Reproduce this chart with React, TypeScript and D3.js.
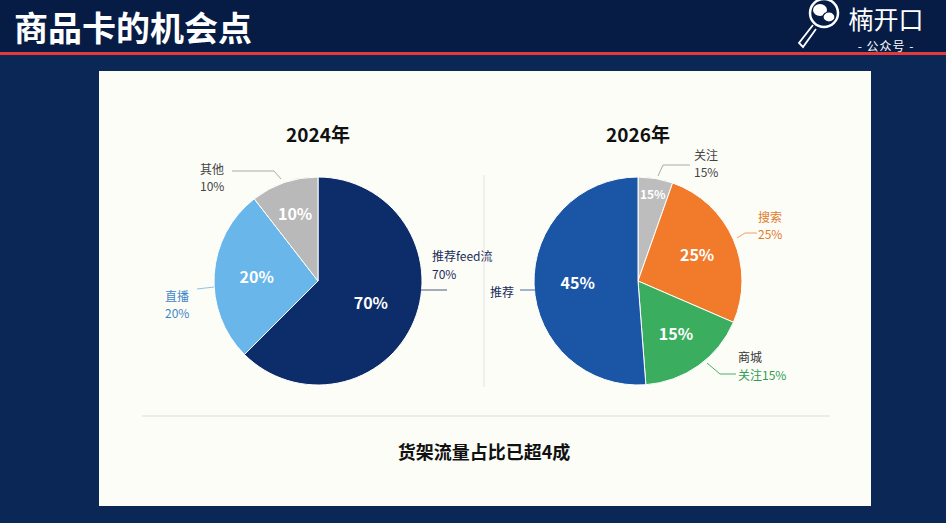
import React, { useEffect, useRef } from "react";
import * as d3 from "d3";

// 2024 pie
const cats2024 = ["推荐feed流", "直播", "其他"];
const labels2024 = ["70%", "20%", "10%"];
// slice sizes as drawn in the picture (the drawing is not to the printed numbers)
const shares2024 = [62.5, 27, 10.5];
const colors2024 = ["#0c2c6a", "#68b6ea", "#b9b9b9"];

// 2026 pie (clockwise from 12 o'clock)
const cats2026 = ["关注", "搜索", "商城", "推荐"];
const labels2026 = ["15%", "25%", "15%", "45%"];
const shares2026 = [5.4, 26.1, 17.3, 51.2];
const colors2026 = ["#bdbdbd", "#f27b2b", "#3aae5e", "#1a55a6"];

const W = 946;
const H = 523;
const FONT = "'Noto Sans CJK SC', 'Noto Sans', sans-serif";

export default function App() {
  const ref = useRef<SVGSVGElement | null>(null);

  useEffect(() => {
    const svg = d3.select(ref.current);
    svg.selectAll("*").remove();
    svg.attr("width", W).attr("height", H);

    // page background + header
    svg.append("rect").attr("width", W).attr("height", H).attr("fill", "#0a2756");
    svg.append("rect").attr("width", W).attr("height", 53).attr("fill", "#061c45");
    svg.append("rect").attr("y", 52).attr("width", W).attr("height", 3).attr("fill", "#e63a3a");
    svg
      .append("text")
      .attr("x", 14)
      .attr("y", 41)
      .attr("fill", "#fff")
      .style("font-family", FONT)
      .style("font-weight", "bold")
      .style("font-size", "34px")
      .text("商品卡的机会点");

    // logo
    const logo = svg.append("g").attr("fill", "none").attr("stroke", "#fff");
    logo.append("circle").attr("cx", 824).attr("cy", 13).attr("r", 14).attr("stroke-width", 2.5);
    logo
      .append("path")
      .attr("d", "M813,25 L799,43 L803,47 L816,29")
      .attr("stroke-width", 1.8);
    logo.append("ellipse").attr("cx", 820).attr("cy", 10).attr("rx", 7).attr("ry", 6).attr("fill", "#fff").attr("stroke", "none");
    logo.append("ellipse").attr("cx", 829).attr("cy", 17).attr("rx", 6).attr("ry", 5).attr("fill", "#fff").attr("stroke", "#061c45").attr("stroke-width", 1.2);
    svg
      .append("text")
      .attr("x", 886)
      .attr("y", 29)
      .attr("text-anchor", "middle")
      .attr("fill", "#fff")
      .style("font-family", FONT)
      .style("font-size", "25px")
      .text("楠开口");
    svg
      .append("text")
      .attr("x", 886)
      .attr("y", 51)
      .attr("text-anchor", "middle")
      .attr("fill", "#fff")
      .style("font-family", FONT)
      .style("font-size", "12px")
      .style("letter-spacing", "1px")
      .text("- 公众号 -");

    // white panel
    svg.append("rect").attr("x", 99).attr("y", 71).attr("width", 772).attr("height", 435).attr("fill", "#fdfdf8");

    const pie = d3
      .pie<number>()
      .value((d) => d)
      .sort(null);

    const drawPie = (
      cx: number,
      cy: number,
      r: number,
      title: string,
      shares: number[],
      labels: string[],
      colors: string[],
      labelR: number[],
      smallIdx: number,
    ) => {
      const g = svg.append("g").attr("transform", `translate(${cx},${cy})`);
      const arc = d3.arc<d3.PieArcDatum<number>>().innerRadius(0).outerRadius(r);
      const arcs = pie(shares);
      g.selectAll("path")
        .data(arcs)
        .enter()
        .append("path")
        .attr("d", arc)
        .attr("fill", (_, i) => colors[i])
        .attr("stroke", "#fff")
        .attr("stroke-width", 1);
      g.selectAll("text.in")
        .data(arcs)
        .enter()
        .append("text")
        .attr("class", "in")
        .attr("transform", (d, i) => {
          const rr = r * labelR[i];
          const c = d3.arc<d3.PieArcDatum<number>>().innerRadius(rr).outerRadius(rr).centroid(d);
          return `translate(${c})`;
        })
        .attr("text-anchor", "middle")
        .attr("dy", "0.36em")
        .attr("fill", "#fff")
        .style("font-family", FONT)
        .style("font-weight", "bold")
        .style("font-size", (_, i) => (i === smallIdx ? "12px" : "16px"))
        .text((_, i) => labels[i]);
      svg
        .append("text")
        .attr("x", cx)
        .attr("y", 142)
        .attr("text-anchor", "middle")
        .attr("fill", "#111")
        .style("font-family", FONT)
        .style("font-weight", "bold")
        .style("font-size", "19px")
        .text(title);
      return g;
    };

    drawPie(318, 281, 104, "2024年", shares2024, labels2024, colors2024, [0.55, 0.59, 0.68], -1);
    drawPie(638, 281, 104, "2026年", shares2026, labels2026, colors2026, [0.84, 0.62, 0.63, 0.58], 0);

    // callouts
    const callout = (
      pts: [number, number][],
      lines: { t: string; c: string; x: number; y: number }[],
      stroke: string,
    ) => {
      svg
        .append("path")
        .attr("d", d3.line()(pts))
        .attr("fill", "none")
        .attr("stroke", stroke)
        .attr("stroke-width", 1);
      lines.forEach((l) =>
        svg
          .append("text")
          .attr("x", l.x)
          .attr("y", l.y)
          .attr("fill", l.c)
          .style("font-family", FONT)
          .style("font-size", "12px")
          .text(l.t),
      );
    };

    callout(
      [[232, 171], [274, 171], [281, 179]],
      [
        { t: cats2024[2], c: "#444", x: 200, y: 174 },
        { t: labels2024[2], c: "#444", x: 200, y: 191 },
      ],
      "#aaa",
    );
    callout(
      [[197, 289], [214, 287]],
      [
        { t: cats2024[1], c: "#3d86c6", x: 165, y: 301 },
        { t: labels2024[1], c: "#3d86c6", x: 165, y: 318 },
      ],
      "#8cc4ea",
    );
    callout(
      [[421, 290], [447, 290]],
      [
        { t: cats2024[0], c: "#1a2d5a", x: 432, y: 261 },
        { t: labels2024[0], c: "#1a2d5a", x: 432, y: 279 },
      ],
      "#4a5a7a",
    );

    callout(
      [[658, 176], [663, 165], [690, 165]],
      [
        { t: cats2026[0], c: "#444", x: 694, y: 160 },
        { t: labels2026[0], c: "#444", x: 694, y: 177 },
      ],
      "#aaa",
    );
    callout(
      [[737, 238], [745, 233], [757, 233]],
      [
        { t: cats2026[1], c: "#e07a2c", x: 758, y: 222 },
        { t: labels2026[1], c: "#e07a2c", x: 758, y: 239 },
      ],
      "#f0a060",
    );
    callout(
      [[707, 363], [720, 374], [736, 374]],
      [
        { t: cats2026[2], c: "#333", x: 738, y: 362 },
        { t: "关注" + labels2026[2], c: "#2f9e52", x: 738, y: 380 },
      ],
      "#4caf6a",
    );
    callout(
      [[520, 290], [535, 290]],
      [{ t: cats2026[3], c: "#1a2d5a", x: 490, y: 297 }],
      "#4a6aa0",
    );

    // divider and footer
    svg.append("line").attr("x1", 484).attr("x2", 484).attr("y1", 175).attr("y2", 387).attr("stroke", "#e2e2e2");
    svg.append("line").attr("x1", 142).attr("x2", 830).attr("y1", 416).attr("y2", 416).attr("stroke", "#e6e6e6").attr("stroke-width", 1.5);
    svg
      .append("text")
      .attr("x", 484)
      .attr("y", 459)
      .attr("text-anchor", "middle")
      .attr("fill", "#111")
      .style("font-family", FONT)
      .style("font-weight", "bold")
      .style("font-size", "18px")
      .text("货架流量占比已超4成");
  }, []);

  return (
    <div style={{ position: "absolute", left: 0, top: 0 }}>
      <svg ref={ref}></svg>
    </div>
  );
}
